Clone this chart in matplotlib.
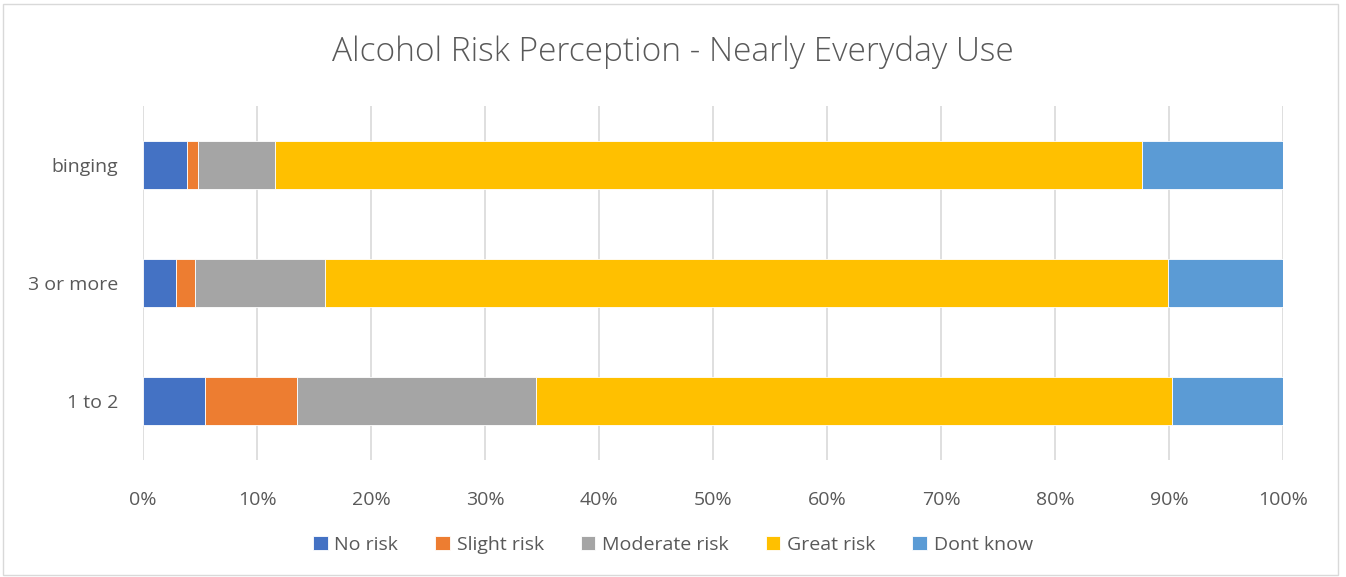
import matplotlib.pyplot as plt
from matplotlib.patches import Rectangle
import numpy as np

categories = ['1 to 2', '3 or more', 'binging']
series = ['No risk', 'Slight risk', 'Moderate risk', 'Great risk', 'Dont know']
no_risk = [5.4, 2.9, 3.9]
slight_risk = [8.1, 1.7, 0.9]
moderate_risk = [21.0, 11.4, 6.8]
great_risk = [55.8, 73.9, 76.0]
dont_know = [9.7, 10.1, 12.4]
colors = ['#4472C4', '#ED7D31', '#A5A5A5', '#FFC000', '#5B9BD5']
xticks = [0, 10, 20, 30, 40, 50, 60, 70, 80, 90, 100]

plt.rcParams['font.family'] = ['Open Sans', 'DejaVu Sans']

fig = plt.figure(figsize=(13.46, 5.77), dpi=100)
ax = fig.add_axes([143 / 1346, 1 - 460 / 577, 1140 / 1346, 354 / 577])

y = np.arange(len(categories))
left = np.zeros(len(categories))
for name, vals, c in zip(series, [no_risk, slight_risk, moderate_risk, great_risk, dont_know], colors):
    ax.barh(y, vals, left=left, height=0.4, color=c, label=name,
            edgecolor='white', linewidth=0.6, zorder=3)
    left += np.array(vals)

ax.set_xlim(0, 100)
ax.set_ylim(-0.5, 2.5)
ax.set_xticks(xticks)
ax.set_xticklabels([f'{t}%' for t in xticks])
ax.set_yticks(y)
ax.set_yticklabels(categories)
ax.grid(axis='x', color='#D9D9D9', linewidth=1.2, zorder=0)
for s in ax.spines.values():
    s.set_visible(False)
ax.tick_params(axis='both', length=0, labelsize=14, labelcolor='#595959')
ax.tick_params(axis='x', pad=22)
ax.tick_params(axis='y', pad=18)

fig.text(0.5, 1 - 52 / 577, 'Alcohol Risk Perception - Nearly Everyday Use',
         ha='center', va='center', fontsize=24, color='#595959', fontweight='light')

fig.legend(loc='center', bbox_to_anchor=(0.5, 1 - 545 / 577), ncol=5, frameon=False,
           fontsize=14, labelcolor='#595959', handlelength=0.75, handleheight=0.75,
           handletextpad=0.35, columnspacing=1.9)

fig.patches.append(Rectangle((3 / 1346, 0.003), 1335 / 1346, 0.99, transform=fig.transFigure,
                             fill=False, edgecolor='#D9D9D9', linewidth=1))

fig.savefig('out.png', dpi=100)
